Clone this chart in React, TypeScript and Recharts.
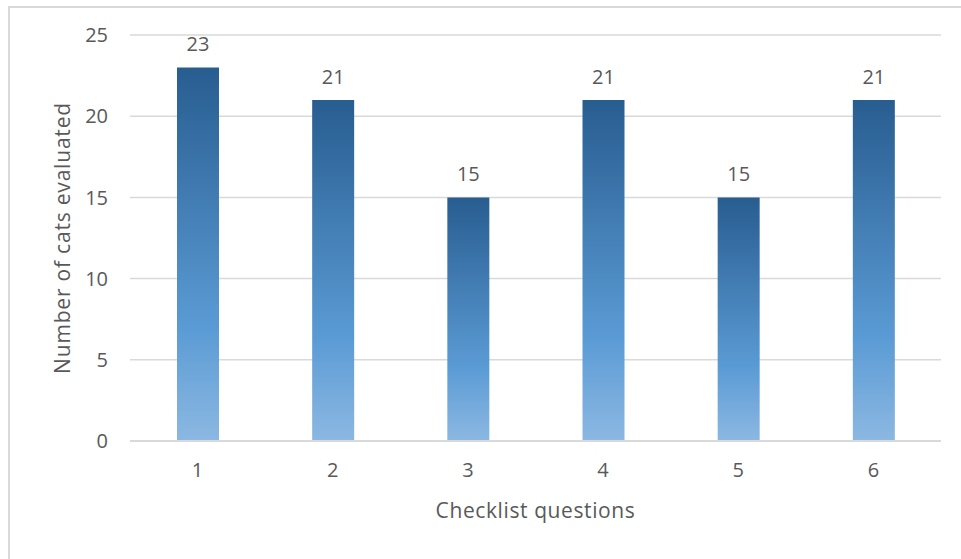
import React from "react";
import {
  BarChart,
  Bar,
  XAxis,
  YAxis,
  CartesianGrid,
  LabelList,
} from "recharts";

// Checklist question numbers and how many cats were evaluated on each
const questions = ["1", "2", "3", "4", "5", "6"];
const catsEvaluated = [23, 21, 15, 21, 15, 21];
const yTicks = [0, 5, 10, 15, 20, 25];

const data = questions.map((q, i) => ({ question: q, cats: catsEvaluated[i] }));

const FONT = "'Open Sans', 'Liberation Sans', sans-serif";
const TEXT = "#595959";
const GRID = "#d9d9d9";

export default function App() {
  return (
    <div
      style={{
        position: "absolute",
        left: 0,
        top: 0,
        width: 961,
        height: 559,
        background: "#fff",
        overflow: "hidden",
        fontFamily: FONT,
      }}
    >
      {/* outer chart frame */}
      <div
        style={{
          position: "absolute",
          left: 8,
          top: 6,
          width: 970,
          height: 570,
          border: `2px solid ${GRID}`,
          boxSizing: "border-box",
        }}
      />
      <BarChart
        width={961}
        height={559}
        data={data}
        margin={{ top: 35, right: 20, bottom: 88, left: 70 }}
        style={{ position: "absolute", left: 0, top: 0 }}
      >
        <defs>
          <linearGradient id="barFill" x1="0" y1="0" x2="0" y2="1">
            <stop offset="0%" stopColor="#285d90" />
            <stop offset="70%" stopColor="#5b9bd5" />
            <stop offset="100%" stopColor="#8cb8e2" />
          </linearGradient>
        </defs>
        <CartesianGrid vertical={false} stroke={GRID} strokeWidth={1.5} />
        <XAxis
          dataKey="question"
          height={30}
          axisLine={{ stroke: GRID, strokeWidth: 2 }}
          tickLine={false}
          tickSize={0}
          tickMargin={22}
          tick={{ fill: TEXT, fontSize: 20, fontFamily: FONT }}
          label={{
            value: "Checklist questions",
            position: "bottom",
            offset: 32,
            fill: TEXT,
            fontSize: 21,
            fontFamily: FONT,
            letterSpacing: 0.6,
          }}
        />
        <YAxis
          domain={[0, 25]}
          ticks={yTicks}
          width={60}
          axisLine={false}
          tickLine={false}
          tickSize={0}
          tickMargin={22}
          tick={{ fill: TEXT, fontSize: 20, fontFamily: FONT }}
          label={{
            value: "Number of cats evaluated",
            angle: -90,
            position: "insideLeft",
            offset: -7,
            fill: TEXT,
            fontSize: 21,
            fontFamily: FONT,
            letterSpacing: 0.8,
            style: { textAnchor: "middle" },
          }}
        />
        <Bar dataKey="cats" barSize={42} fill="url(#barFill)" isAnimationActive={false}>
          <LabelList
            dataKey="cats"
            position="top"
            offset={16}
            fill={TEXT}
            fontSize={20}
            fontFamily={FONT}
          />
        </Bar>
      </BarChart>
    </div>
  );
}
